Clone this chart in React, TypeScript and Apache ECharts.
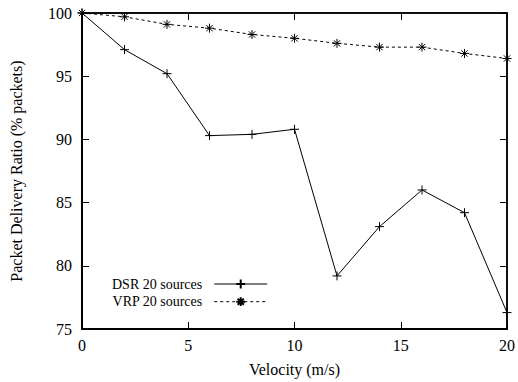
import React, { useEffect, useRef } from "react";
import * as echarts from "echarts";

const velocities = [0, 2, 4, 6, 8, 10, 12, 14, 16, 18, 20];
const dsrValues = [100, 97.1, 95.2, 90.3, 90.4, 90.8, 79.2, 83.1, 86.0, 84.2, 76.3];
const vrpValues = [100, 99.7, 99.1, 98.8, 98.3, 98.0, 97.6, 97.3, 97.3, 96.8, 96.4];
const seriesNames = ["DSR 20 sources", "VRP 20 sources"];

const FONT = "'Liberation Serif', 'Times New Roman', Times, serif";
const PLUS = "path://M0,5L10,5M5,0L5,10";
const STAR = "path://M0,5L10,5M5,0L5,10M1.5,1.5L8.5,8.5M8.5,1.5L1.5,8.5";

export default function App() {
  const ref = useRef<HTMLDivElement>(null);
  useEffect(() => {
    if (!ref.current) return;
    const chart = echarts.init(ref.current, undefined, { renderer: "svg" });
    const axisCommon = {
      type: "value" as const,
      splitLine: { show: false },
      axisLine: { show: true, onZero: false, lineStyle: { color: "#000", width: 2 } },
      axisTick: { show: true, inside: true, length: 7, lineStyle: { color: "#000", width: 1 } },
    };
    chart.setOption({
      animation: false,
      backgroundColor: "#fff",
      textStyle: { fontFamily: FONT, color: "#000" },
      grid: { left: 81, right: 8, top: 13, bottom: 52, show: true, borderColor: "#000", borderWidth: 1.5, backgroundColor: "transparent" },
      legend: {
        data: seriesNames,
        orient: "vertical",
        align: "right",
        left: 107,
        top: 272,
        itemWidth: 53,
        itemHeight: 11,
        itemGap: 3.7,
        lineStyle: { width: 1 },
        textStyle: { fontFamily: FONT, fontSize: 14, color: "#000", lineHeight: 14, padding: [0, 7, 0, 0] },
      },
      xAxis: [
        {
          ...axisCommon,
          min: 0,
          max: 20,
          interval: 5,
          name: "Velocity (m/s)",
          nameLocation: "middle",
          nameGap: 32,
          nameTextStyle: { fontFamily: FONT, fontSize: 16, color: "#000" },
          axisLabel: { color: "#000", fontFamily: FONT, fontSize: 16, margin: 8 },
        },
        {
          ...axisCommon,
          position: "top",
          min: 0,
          max: 20,
          interval: 5,
          axisLine: { show: true, onZero: false, lineStyle: { color: "#000", width: 1.5 } },
          axisLabel: { show: false },
        },
      ],
      yAxis: [
        {
          ...axisCommon,
          min: 75,
          max: 100,
          interval: 5,
          name: "Packet Delivery Ratio (% packets)",
          nameLocation: "middle",
          nameGap: 58,
          nameTextStyle: { fontFamily: FONT, fontSize: 16, color: "#000" },
          axisLabel: { color: "#000", fontFamily: FONT, fontSize: 16, margin: 10 },
        },
        {
          ...axisCommon,
          position: "right",
          min: 75,
          max: 100,
          interval: 5,
          axisLine: { show: true, onZero: false, lineStyle: { color: "#000", width: 1.5 } },
          axisLabel: { show: false },
        },
      ],
      series: [
        {
          name: seriesNames[0],
          type: "line",
          data: velocities.map((v, i) => [v, dsrValues[i]]),
          symbol: PLUS,
          symbolSize: 9,
          showAllSymbol: true,
          clip: false,
          lineStyle: { color: "#000", width: 1 },
          itemStyle: { color: "#000", borderColor: "#000", borderWidth: 1 },
        },
        {
          name: seriesNames[1],
          type: "line",
          data: velocities.map((v, i) => [v, vrpValues[i]]),
          symbol: STAR,
          symbolSize: 9,
          showAllSymbol: true,
          clip: false,
          lineStyle: { color: "#000", width: 1, type: [3, 3] },
          itemStyle: { color: "#000", borderColor: "#000", borderWidth: 1 },
        },
      ],
    });
    return () => chart.dispose();
  }, []);
  return <div ref={ref} style={{ width: 518, height: 382, position: "absolute", left: 0, top: 0 }} />;
}
